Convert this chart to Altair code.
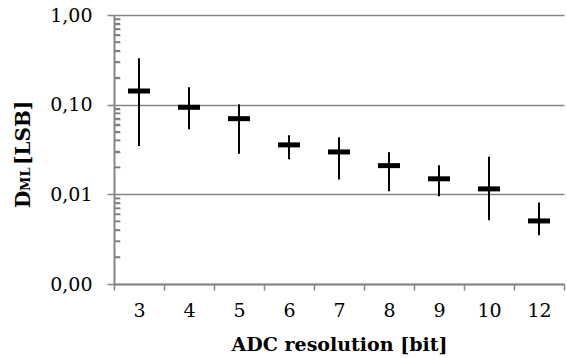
import altair as alt
import pandas as pd

# ---- data ----
resolution = ["3", "4", "5", "6", "7", "8", "9", "10", "12"]
d_mean = [0.142, 0.0935, 0.0698, 0.0356, 0.0297, 0.0209, 0.0149, 0.0115, 0.00505]
d_high = [0.329, 0.156, 0.101, 0.0455, 0.0433, 0.0294, 0.0211, 0.0263, 0.00812]
d_low = [0.0346, 0.0532, 0.0284, 0.0246, 0.0146, 0.0108, 0.00953, 0.00514, 0.0035]

major_ticks = [0.001, 0.01, 0.1, 1.0]
minor_ticks = [m * d for d in (0.001, 0.01, 0.1) for m in range(2, 10)]

GRAY = "#868686"
FONT = "DejaVu Serif"
PLOT_W = 450
PLOT_H = 269

df = pd.DataFrame({"res": resolution, "mean": d_mean, "hi": d_high, "lo": d_low})
minor_df = pd.DataFrame({"v": minor_ticks})

yscale = alt.Scale(type="log", domain=[0.001, 1], nice=False)
xscale = alt.Scale(domain=resolution, paddingInner=0, paddingOuter=0)

xenc = alt.X(
    "res:N",
    scale=xscale,
    sort=resolution,
    axis=alt.Axis(
        title="ADC resolution [bit]",
        labelAngle=0,
        tickBand="extent",
        grid=False,
        domainColor=GRAY,
        domainWidth=2,
        tickColor=GRAY,
        tickWidth=1.5,
        tickSize=6,
        labelFont=FONT,
        labelFontSize=19,
        labelColor="black",
        labelPadding=11,
        titleFont=FONT,
        titleFontSize=19,
        titleFontWeight="bold",
        titleColor="black",
        titlePadding=15,
    ),
)

yaxis = alt.Axis(
    title=None,
    values=major_ticks,
    labelExpr="replace(format(datum.value, '.2f'), '.', ',')",
    grid=True,
    gridColor=GRAY,
    gridWidth=1.5,
    domainColor=GRAY,
    domainWidth=2,
    tickColor=GRAY,
    tickWidth=1.5,
    tickSize=7,
    labelFont=FONT,
    labelFontSize=19,
    labelColor="black",
    labelPadding=15,
)

# inward-pointing minor log ticks: an extra tick-only axis moved onto the left edge
minor_axis = alt.Axis(
    orient="right",
    offset=-PLOT_W,
    values=minor_ticks,
    labels=False,
    domain=False,
    grid=False,
    ticks=True,
    tickSize=6,
    tickColor=GRAY,
    tickWidth=1.5,
    title=None,
)

bars = alt.Chart(df).mark_rule(color="black", strokeWidth=2).encode(
    x=xenc,
    y=alt.Y("lo:Q", scale=yscale, axis=yaxis),
    y2="hi:Q",
)

means = alt.Chart(df).mark_tick(color="black", opacity=1, thickness=5, size=22).encode(
    x=alt.X("res:N", scale=xscale, sort=resolution),
    y=alt.Y("mean:Q", scale=yscale, axis=None),
)

minor = alt.Chart(minor_df).mark_rule(color="#7a7a7a", strokeWidth=1.5).encode(
    y=alt.Y("v:Q", scale=yscale, axis=minor_axis),
    x=alt.value(1),
    x2=alt.value(6),
)

title_parts = pd.DataFrame({"t": ["D"]})
t_d = alt.Chart(title_parts).mark_text(
    text="D", angle=270, align="left", baseline="alphabetic",
    font=FONT, fontSize=20, fontWeight="bold", color="black",
).encode(x=alt.value(-84), y=alt.value(193))
t_ml = alt.Chart(title_parts).mark_text(
    text="ML", angle=270, align="left", baseline="alphabetic",
    font=FONT, fontSize=13, fontWeight="bold", color="black",
).encode(x=alt.value(-84), y=alt.value(176))
t_lsb = alt.Chart(title_parts).mark_text(
    text="[LSB]", angle=270, align="left", baseline="alphabetic",
    font=FONT, fontSize=20, fontWeight="bold", color="black",
).encode(x=alt.value(-84), y=alt.value(150))

chart = (
    alt.layer(bars, means, t_d, t_ml, t_lsb, minor)
    .resolve_axis(y="independent")
    .properties(
        width=PLOT_W,
        height=PLOT_H,
        autosize=alt.AutoSizeParams(type="none"),
        padding={"left": 114, "top": 15, "right": 3, "bottom": 74},
        background="white",
    )
    .configure_view(strokeWidth=0)
)

chart.save("out.html", embed_options={"renderer": "svg", "actions": False})
